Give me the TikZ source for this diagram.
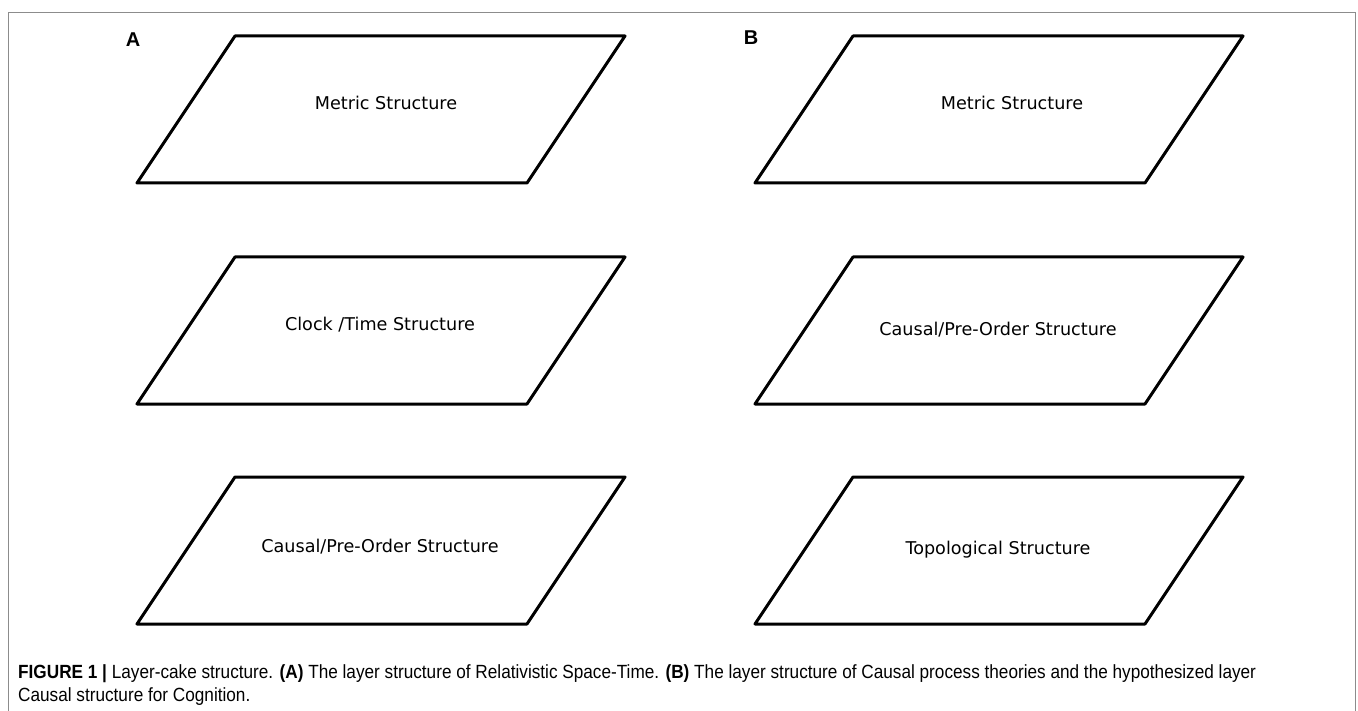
\documentclass[tikz,border=0pt]{standalone}
\usepackage{fontspec}
\setmainfont{Liberation Sans}
\newfontfamily\layerfont{DejaVu Sans}
\newfontfamily\capfont[FakeStretch=0.9]{Liberation Sans}
\usetikzlibrary{positioning}
\definecolor{framegray}{RGB}{140,140,140}

\tikzset{
  layer/.style={line width=3pt, line join=round},
  layertext/.style={font=\layerfont\fontsize{17.6}{20}\selectfont},
  panel/.style={font=\bfseries\fontsize{20}{22}\selectfont}
}

\begin{document}
\begin{tikzpicture}[x=1pt,y=-1pt]
  \useasboundingbox (0,0) rectangle (1358,711);
  \draw [framegray, line width=1pt] (8,711) -- (8,13) -- (1355,13) -- (1355,711);

  % panel A
  \node [panel] (labA) at (133,40) {A};
  \draw [layer] (235,36) -- (625,36) -- (527,183) -- (137,183) -- cycle;
  \draw [layer] (235,257) -- (625,257) -- (527,404) -- (137,404) -- cycle;
  \draw [layer] (235,477) -- (625,477) -- (527,624) -- (137,624) -- cycle;
  \node [layertext] (metA) at (386,103) {Metric Structure};
  \node [layertext] (clockA) at (380,325) {Clock /Time Structure};
  \node [layertext] (causA) at (380,547) {Causal/Pre-Order Structure};

  % panel B
  \node [panel] (labB) at (751,38) {B};
  \draw [layer] (853,36) -- (1243,36) -- (1145,183) -- (755,183) -- cycle;
  \draw [layer] (853,257) -- (1243,257) -- (1145,404) -- (755,404) -- cycle;
  \draw [layer] (853,477) -- (1243,477) -- (1145,624) -- (755,624) -- cycle;
  \node [layertext] (metB) at (1012,103) {Metric Structure};
  \node [layertext] (causB) at (998,330) {Causal/Pre-Order Structure};
  \node [layertext] (topoB) at (998,550) {Topological Structure};

  % caption
  \node [anchor=base west, inner sep=0pt, align=left,
         font=\capfont\fontsize{19.1}{23}\selectfont] (caption) at (18,701)
    {\textbf{FIGURE 1 |} Layer-cake structure. \textbf{(A)} The layer structure of Relativistic Space-Time. \textbf{(B)} The layer structure of Causal process theories and the hypothesized layer\\
     Causal structure for Cognition.};
\end{tikzpicture}
\end{document}
